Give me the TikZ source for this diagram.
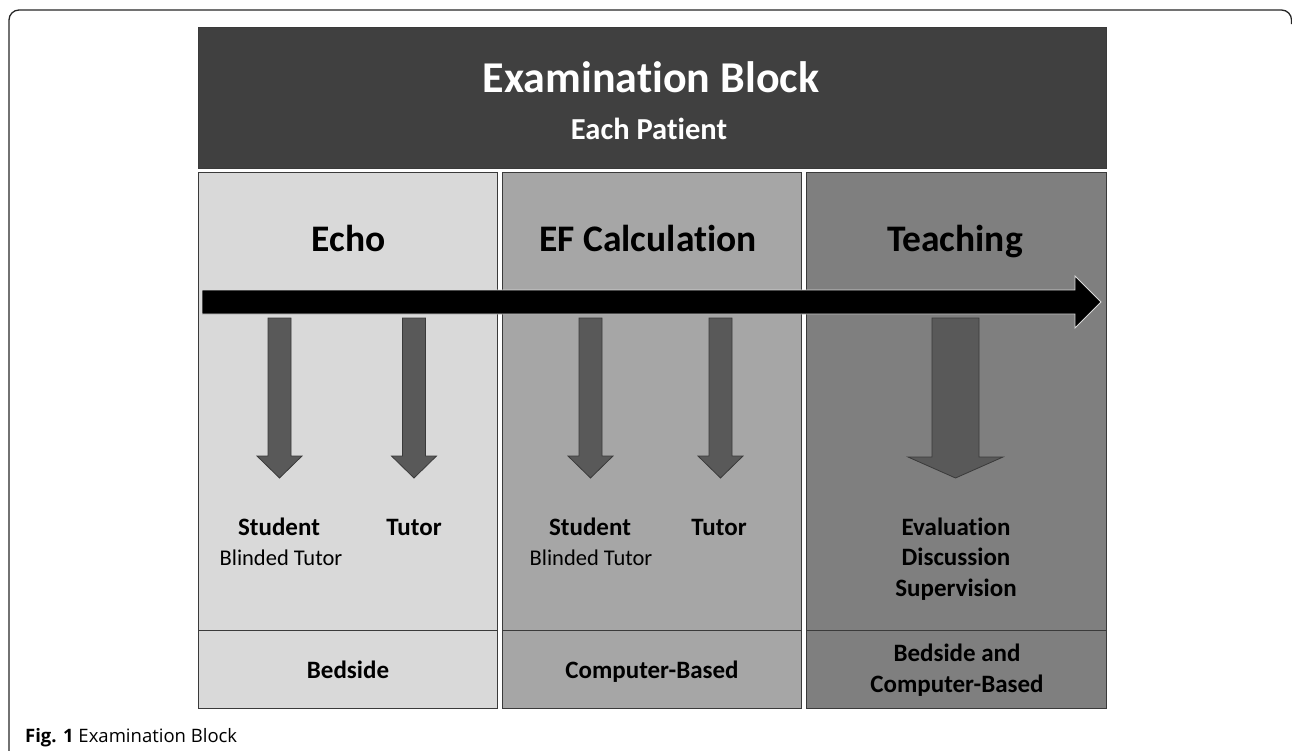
\documentclass[tikz,border=0pt]{standalone}
\usepackage{fontspec}
\setmainfont{Carlito}[Ligatures={NoCommon}]
\newfontfamily\capfont{Open Sans}
\definecolor{hdr}{HTML}{404040}
\definecolor{cone}{HTML}{D9D9D9}
\definecolor{ctwo}{HTML}{A6A6A6}
\definecolor{cthree}{HTML}{7F7F7F}
\definecolor{arr}{HTML}{595959}
\definecolor{edge}{HTML}{3A3A3A}
\tikzset{
  boxline/.style={draw=edge, line width=0.9pt},
  downarrow/.style={fill=arr, draw=edge, line width=0.8pt, line join=miter},
  bigtxt/.style={font=\bfseries\fontsize{37.5}{44}\selectfont, anchor=base},
  smalltxt/.style={font=\bfseries\fontsize{25}{30.5}\selectfont, anchor=base, align=center},
  regtxt/.style={font=\fontsize{22.5}{27}\selectfont, anchor=base},
}
\begin{document}
\begin{tikzpicture}[x=1pt,y=-1pt]
\useasboundingbox (0,0) rectangle (1292,750);
% outer frame
\draw[line width=1.3pt, color=black!85, rounded corners=10pt] (9,760) -- (9,10) -- (1291.5,10) -- (1291.5,24);
% header
\node[boxline, fill=hdr, minimum width=908pt, minimum height=141pt, inner sep=0pt, anchor=north west] (hdrbox) at (198,27) {};
\node[font=\bfseries\fontsize{44}{50}\selectfont, text=white, anchor=base] (title) at (651,92) {Examination Block};
\node[font=\bfseries\fontsize{30.5}{34}\selectfont, text=white, anchor=base] (sub) at (649,139) {Each Patient};
% columns
\node[boxline, fill=cone, minimum width=299pt, minimum height=536pt, inner sep=0pt, anchor=north west] (col1) at (198,172) {};
\node[boxline, fill=ctwo, minimum width=299pt, minimum height=536pt, inner sep=0pt, anchor=north west] (col2) at (502,172) {};
\node[boxline, fill=cthree, minimum width=300pt, minimum height=536pt, inner sep=0pt, anchor=north west] (col3) at (806,172) {};
\draw[boxline] (198,630) -- (497,630);
\draw[boxline] (502,630) -- (801,630);
\draw[boxline] (806,630) -- (1106,630);
% column titles
\node[bigtxt] (echo) at (348.5,251) {Echo};
\node[bigtxt] (efc) at (648,251) {EF Calculation};
\node[bigtxt] (teach) at (955,251) {Teaching};
% main arrow
\draw[fill=black, draw=black!15, line width=0.8pt, line join=miter]
  (202,290) -- (1075,290) -- (1075,276) -- (1101,302) -- (1075,328) -- (1075,314) -- (202,314) -- cycle;
% down arrows
\foreach \cx in {279.5,414,590.5,720.5}{
  \draw[downarrow] (\cx-11.5,318) -- (\cx+11.5,318) -- (\cx+11.5,456) -- (\cx+22.5,456) -- (\cx,478) -- (\cx-22.5,456) -- (\cx-11.5,456) -- cycle;
}
\draw[downarrow] (932,318) -- (979,318) -- (979,457) -- (1003,457) -- (955.5,478) -- (908,457) -- (932,457) -- cycle;
% labels
\node[smalltxt] (s1) at (279,535) {Student};
\node[smalltxt] (t1) at (414,535) {Tutor};
\node[regtxt] (b1) at (281,565) {Blinded Tutor};
\node[smalltxt] (s2) at (590,535) {Student};
\node[smalltxt] (t2) at (719,535) {Tutor};
\node[regtxt] (b2) at (591,565) {Blinded Tutor};
\node[smalltxt] (ev) at (956,535) {Evaluation};
\node[smalltxt] (di) at (956,565.5) {Discussion};
\node[smalltxt] (su) at (956,596) {Supervision};
\node[smalltxt] (bs) at (348,678) {Bedside};
\node[smalltxt] (cb) at (652,678) {Computer-Based};
\node[smalltxt] (bsa) at (957,661) {Bedside and};
\node[smalltxt] (cba) at (957,692) {Computer-Based};
% caption
\node[font=\capfont\fontsize{18.5}{22}\selectfont, anchor=base west, inner sep=0pt] (cap) at (25,742.5) {\textbf{Fig. 1} Examination Block};
\end{tikzpicture}
\end{document}
